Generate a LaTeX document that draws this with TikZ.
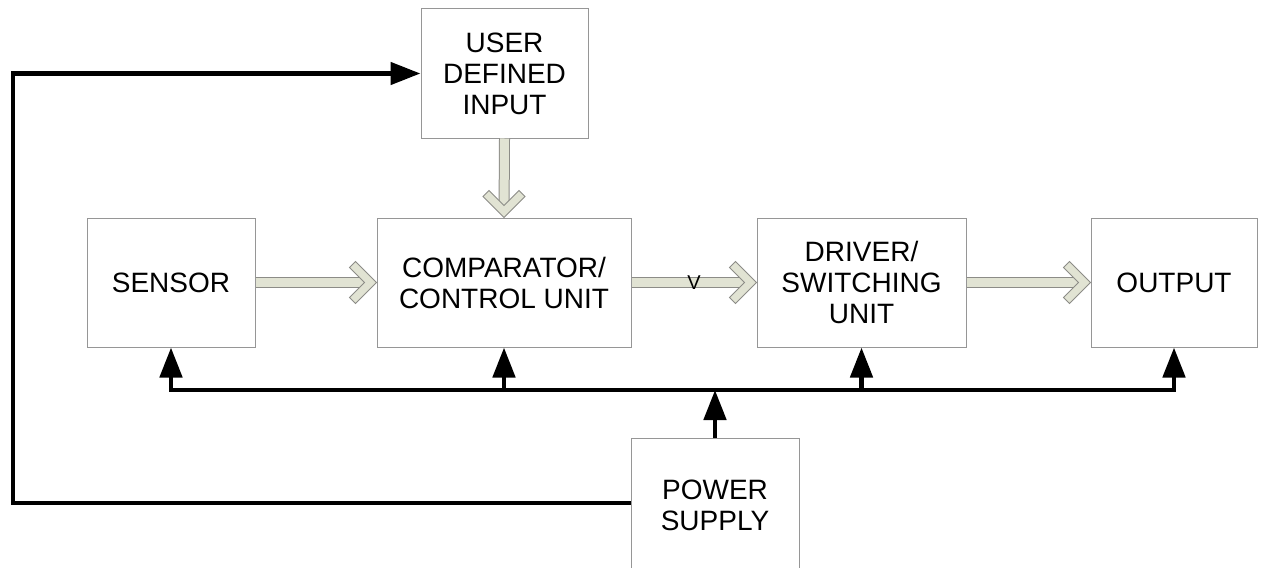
\documentclass[tikz,border=0pt]{standalone}
\usepackage{fontspec}
\setmainfont{Liberation Sans}
\usetikzlibrary{arrows.meta,calc}

\definecolor{shaftfill}{RGB}{225,227,211}
\definecolor{shaftline}{RGB}{140,140,135}
\definecolor{boxline}{RGB}{150,150,150}

\tikzset{
    block/.style={draw=boxline, line width=0.5pt, fill=white, align=center,
      inner sep=0pt, font=\fontsize{14}{15.5}\selectfont},
    shaft/.style={draw=shaftline, line width=0.5pt, double=shaftfill,
      double distance=4.5pt, shorten >=3pt},
    fathead/.pic={\filldraw[draw=shaftline, fill=shaftfill, line width=0.5pt,
      line join=miter] (0,0) -- (-21,-21) -- (-27,-15) -- (-12,0)
      -- (-27,15) -- (-21,21) -- cycle;},
    pwr/.style={line width=2.4pt, line join=miter},
    pwrtip/.style={-{Triangle[length=15pt,width=11pt]}},
}

\begin{document}
\begin{tikzpicture}[x=0.5pt, y=-0.5pt]
    \useasboundingbox (0,0) rectangle (1261,567);
    \node[block, minimum width=83.5pt, minimum height=64.5pt] (user)
      at (504.5, 73.5) {USER\\DEFINED\\INPUT};
    \node[block, minimum width=84pt, minimum height=64.5pt] (sensor)
      at (171, 282.5) {SENSOR};
    \node[block, minimum width=127pt, minimum height=64.5pt] (comp)
      at (504, 282.5) {COMPARATOR/\\CONTROL UNIT};
    \node[block, minimum width=104.5pt, minimum height=64.5pt] (driver)
      at (861.5, 282.5) {DRIVER/\\SWITCHING\\UNIT};
    \node[block, minimum width=83pt, minimum height=64.5pt] (output)
      at (1174, 282.5) {OUTPUT};
    \node[block, minimum width=84pt, minimum height=67pt] (power)
      at (715, 505.5) {POWER\\SUPPLY};
    \draw[shaft] (user.south) -- (comp.north);
    \pic[rotate=-90] at (comp.north) {fathead};
    \draw[shaft] (sensor.east) -- (comp.west);
    \pic at (comp.west) {fathead};
    \draw[shaft] (comp.east) -- node[font=\fontsize{10}{12}\selectfont]
      {V} (driver.west);
    \pic at (driver.west) {fathead};
    \draw[shaft] (driver.east) -- (output.west);
    \pic at (output.west) {fathead};
    \coordinate (bus) at (171, 390);
    \coordinate (fb) at (13, 503);
    \draw[pwr, {Triangle[length=15pt,width=11pt]}-{Triangle[length=15pt,width=11pt]}]
      (sensor.south) -- (sensor.south |- bus) -- (output.south |- bus)
      -- (output.south);
    \draw[pwr, pwrtip] (comp.south |- bus) -- (comp.south);
    \draw[pwr, pwrtip] (driver.south |- bus) -- (driver.south);
    \draw[pwr, pwrtip] (power.north) -- (power.north |- bus);
    \draw[pwr, pwrtip] (power.west |- fb) -- (fb) |- (user.west);
\end{tikzpicture}
\end{document}
